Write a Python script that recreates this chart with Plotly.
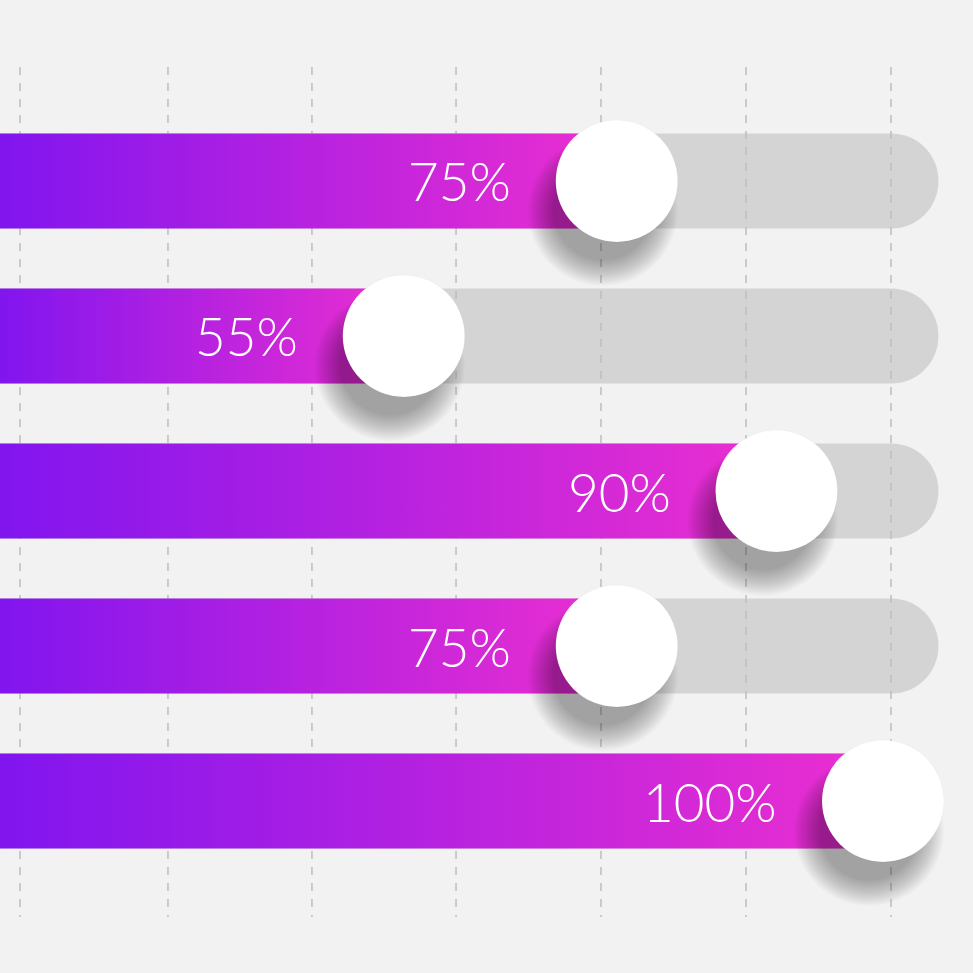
import plotly.graph_objects as go

# ---- data ----
values = [75, 55, 90, 75, 100]          # percent per row, top to bottom
rows = [0, 1, 2, 3, 4]
labels = [f"{v}%" for v in values]
grid_ticks = [18.97, 32.86, 46.38, 59.91, 73.52, 87.14, 100.75]  # dashed guide positions (percent axis)
track_end = 105.2                        # length of the grey track

# ---- style ----
BG = "#f2f2f2"
TRACK = "#d4d4d4"
GRID = "#bdbdbd"
PURPLE = "#8115ef"
PINK = "#ec2fd0"

X_RANGE = [17.09, 108.45]
Y_RANGE = [5.1097, -1.1677]
W = H = 973
PX_X = W / (X_RANGE[1] - X_RANGE[0])
PX_Y = H / (Y_RANGE[0] - Y_RANGE[1])
BAR_H = 95 / PX_Y
CIRCLE = 122
GRID_Y = [-0.7355, 4.748]

fig = go.Figure()

# grey tracks
fig.add_trace(go.Bar(
    x=[track_end] * len(values), y=rows, base=0, orientation="h",
    width=BAR_H, marker=dict(color=TRACK, line=dict(width=0), cornerradius=48),
    hoverinfo="skip",
))

# dashed guides (over the tracks, under the coloured bars)
gx, gy = [], []
for t in grid_ticks:
    gx += [t, t, None]
    gy += [GRID_Y[0], GRID_Y[1], None]
fig.add_trace(go.Scatter(
    x=gx, y=gy, mode="lines",
    line=dict(color=GRID, width=1.5, dash="8px,8px"), hoverinfo="skip",
))

# gradient bars
for r, v in zip(rows, values):
    fig.add_trace(go.Scatter(
        x=[0, v, v, 0, 0],
        y=[r - BAR_H / 2, r - BAR_H / 2, r + BAR_H / 2, r + BAR_H / 2, r - BAR_H / 2],
        mode="lines", line=dict(width=0), fill="toself",
        fillgradient=dict(type="horizontal", colorscale=[[0, PURPLE], [1, PINK]],
                          start=X_RANGE[0], stop=v),
        hoverinfo="skip",
    ))

# soft shadows under knobs
dx = -14 / PX_X
dy = 30 / PX_Y
for s in range(150, 96, -3):
    fig.add_trace(go.Scatter(
        x=[v + dx for v in values], y=[r + dy for r in rows], mode="markers",
        marker=dict(size=s, color="rgba(0,0,0,0.02)", line=dict(width=0)),
        hoverinfo="skip",
    ))

# white knobs
fig.add_trace(go.Scatter(
    x=values, y=rows, mode="markers",
    marker=dict(size=CIRCLE, color="white", line=dict(width=0.6, color="rgba(0,0,0,0.06)")),
    hoverinfo="skip",
))

# labels
for r, v, lab in zip(rows, values, labels):
    fig.add_annotation(
        x=v, y=r, text=lab, showarrow=False, xanchor="right", yanchor="middle",
        xshift=-104, font=dict(family="Lato", size=53, color="white", weight=300),
    )

fig.update_layout(
    width=W, height=H, margin=dict(l=0, r=0, t=0, b=0),
    paper_bgcolor=BG, plot_bgcolor=BG, showlegend=False, barmode="overlay",
    hovermode=False,
    xaxis=dict(range=X_RANGE, visible=False, fixedrange=True),
    yaxis=dict(range=Y_RANGE, visible=False, fixedrange=True),
)

fig.write_html("out.html")
